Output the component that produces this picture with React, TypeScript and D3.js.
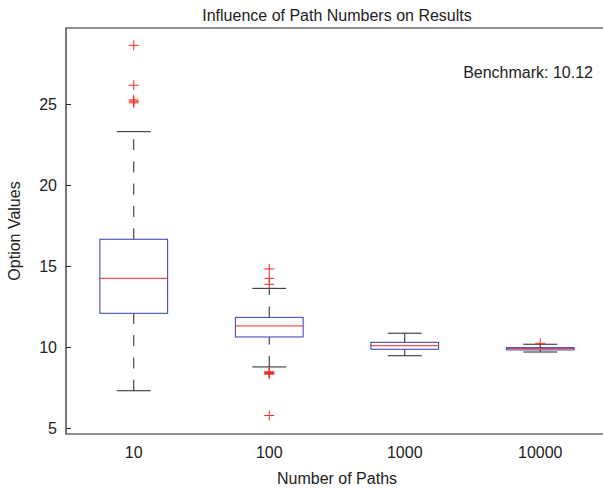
import React from "react";
import * as d3 from "d3";

const categories = ["10", "100", "1000", "10000"];
const q1 = [12.11, 10.65, 9.89, 9.85];
const medians = [14.27, 11.33, 10.11, 9.93];
const q3 = [16.68, 11.86, 10.32, 9.99];
const lowerWhisker = [7.33, 8.8, 9.49, 9.72];
const upperWhisker = [23.32, 13.65, 10.88, 10.2];
const outliers = [
  [28.65, 26.19, 25.28, 25.2, 25.1],
  [14.85, 14.27, 13.9, 8.5, 8.45, 8.4, 8.35, 5.8],
  [],
  [10.26],
];
const yTicks = [5, 10, 15, 20, 25];
const title = "Influence of Path Numbers on Results";
const xLabel = "Number of Paths";
const yLabel = "Option Values";
const benchmark = "Benchmark: 10.12";

const W = 603;
const H = 489;
const left = 66;
const right = 608;
const top = 28;
const bottom = 434;
const FONT = "'Liberation Sans', Arial, Helvetica, sans-serif";
const FS = 16;

export default function App() {
  const x = d3.scaleLinear().domain([0.5, 4.5]).range([left, right]);
  const y = d3.scaleLinear().domain([4.66, 29.72]).range([bottom, top]);
  const step = x(2) - x(1);
  const boxHalf = step * 0.25;
  const capHalf = step * 0.125;
  const blue = "#2f3fb0";
  const red = "#ee2a24";
  const dark = "#222";

  return (
    <svg
      width={W}
      height={H}
      style={{ position: "absolute", left: 0, top: 0, background: "#fff" }}
      fontFamily={FONT}
    >
      <rect x={0} y={0} width={W} height={H} fill="#fff" />
      <text x={(left + right) / 2} y={21} textAnchor="middle" fontSize={FS} fill="#222">
        {title}
      </text>
      <path
        d={`M${right},${top}H${left}V${bottom}H${right}`}
        fill="none"
        stroke="#222"
        strokeWidth={1.2}
      />
      {yTicks.map((t) => (
        <g key={t}>
          <line x1={left} x2={left + 5} y1={y(t)} y2={y(t)} stroke="#222" strokeWidth={1} />
          <text x={left - 9} y={y(t) + 6} textAnchor="end" fontSize={FS} fill="#222">
            {t}
          </text>
        </g>
      ))}
      {categories.map((c, i) => (
        <text key={c} x={x(i + 1)} y={458} textAnchor="middle" fontSize={FS} fill="#222">
          {c}
        </text>
      ))}
      <text x={(left + right) / 2} y={484} textAnchor="middle" fontSize={FS} fill="#222">
        {xLabel}
      </text>
      <text
        transform={`translate(20,${(top + bottom) / 2}) rotate(-90)`}
        textAnchor="middle"
        fontSize={FS}
        fill="#222"
      >
        {yLabel}
      </text>
      <text x={593} y={78} textAnchor="end" fontSize={FS} fill="#222">
        {benchmark}
      </text>
      {categories.map((c, i) => {
        const cx = x(i + 1);
        return (
          <g key={"b" + c}>
            <line
              x1={cx} x2={cx} y1={y(q3[i])} y2={y(upperWhisker[i])}
              stroke={dark} strokeWidth={1} strokeDasharray="11 11.3"
            />
            <line
              x1={cx} x2={cx} y1={y(lowerWhisker[i])} y2={y(q1[i])}
              stroke={dark} strokeWidth={1} strokeDasharray="11 11.3"
            />
            <line x1={cx - capHalf} x2={cx + capHalf} y1={y(upperWhisker[i])} y2={y(upperWhisker[i])} stroke={dark} strokeWidth={1} />
            <line x1={cx - capHalf} x2={cx + capHalf} y1={y(lowerWhisker[i])} y2={y(lowerWhisker[i])} stroke={dark} strokeWidth={1} />
            <rect
              x={cx - boxHalf}
              y={y(q3[i])}
              width={boxHalf * 2}
              height={y(q1[i]) - y(q3[i])}
              fill="none"
              stroke={blue}
              strokeWidth={1}
            />
            <line x1={cx - boxHalf} x2={cx + boxHalf} y1={y(medians[i])} y2={y(medians[i])} stroke={red} strokeWidth={1} />
            {outliers[i].map((v, k) => (
              <path
                key={k}
                d={`M${cx - 5},${y(v)}H${cx + 5}M${cx},${y(v) - 5}V${y(v) + 5}`}
                stroke={red}
                strokeWidth={1}
                fill="none"
              />
            ))}
          </g>
        );
      })}
    </svg>
  );
}
